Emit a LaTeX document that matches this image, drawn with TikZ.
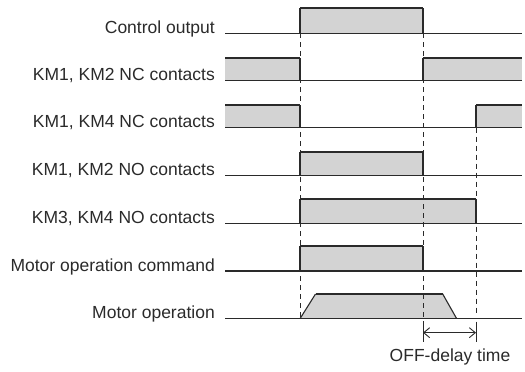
\documentclass[tikz,border=0pt]{standalone}
\usepackage{fontspec}
\setmainfont{Liberation Sans}
\usetikzlibrary{arrows.meta}
\definecolor{fillgray}{HTML}{D3D3D3}
\definecolor{ink}{HTML}{2A2A2A}
\begin{document}
\begin{tikzpicture}[x=1pt,y=-1pt,
  lbl/.style={anchor=base east, inner sep=0pt, font=\fontsize{17.5}{20}\selectfont, text=ink},
  note/.style={anchor=base, inner sep=0pt, font=\fontsize{17.5}{20}\selectfont, text=ink},
  baseln/.style={draw=ink, line width=1.1pt},
  hiln/.style={draw=ink, line width=2.2pt},
  edgeln/.style={draw=ink, line width=1.1pt},
  pulsefill/.style={fill=fillgray},
  guide/.style={draw=ink, line width=1pt, dash pattern=on 5pt off 4pt},
  dimln/.style={draw=ink, line width=1pt},
  dimarrow/.style={draw=ink, line width=0.9pt, {Straight Barb[length=6pt,width=10pt]}-{Straight Barb[length=6pt,width=10pt]}}]
\useasboundingbox (0,0) rectangle (525,372);

% labels
\node[lbl] (l1) at (215,33.3) {Control output};
\node[lbl] (l2) at (215,80.3) {KM1, KM2 NC contacts};
\node[lbl] (l3) at (215,127.7) {KM1, KM4 NC contacts};
\node[lbl] (l4) at (215,175.7) {KM1, KM2 NO contacts};
\node[lbl] (l5) at (215,223.3) {KM3, KM4 NO contacts};
\node[lbl] (l6) at (215,271) {Motor operation command};
\node[lbl] (l7) at (215,318.7) {Motor operation};

% fills
\fill[pulsefill] (300,8) rectangle (423,33.3);
\fill[pulsefill] (225,58.3) rectangle (300,80.3);
\fill[pulsefill] (423,58.3) rectangle (522,80.3);
\fill[pulsefill] (225,105.3) rectangle (300,127.7);
\fill[pulsefill] (476,105.3) rectangle (522,127.7);
\fill[pulsefill] (300,151.7) rectangle (423,175.7);
\fill[pulsefill] (300,199) rectangle (476,223.3);
\fill[pulsefill] (300,246.3) rectangle (423,271);
\fill[pulsefill] (300,318.7) -- (315.5,294) -- (442.7,294) -- (456.7,318.7) -- cycle;

% guides
\draw[guide] (300,33.3) -- (300,318.7);
\draw[guide] (423,33.3) -- (423,321.7);
\draw[guide] (476,127.7) -- (476,316);

% baselines
\draw[baseln] (225,33.3) -- (522,33.3);
\draw[baseln] (225,80.3) -- (522,80.3);
\draw[baseln] (225,127.7) -- (522,127.7);
\draw[baseln] (225,175.7) -- (522,175.7);
\draw[baseln] (225,223.3) -- (522,223.3);
\draw[baseln] (225,271) -- (522,271);
\draw[baseln] (225,318.7) -- (522,318.7);

% edges
\draw[edgeln] (300,33.3) -- (300,8) (423,8) -- (423,33.3);
\draw[edgeln] (300,58.3) -- (300,80.3) (423,80.3) -- (423,58.3);
\draw[edgeln] (300,105.3) -- (300,127.7) (476,127.7) -- (476,105.3);
\draw[edgeln] (300,175.7) -- (300,151.7) (423,151.7) -- (423,175.7);
\draw[edgeln] (300,223.3) -- (300,199) (476,199) -- (476,223.3);
\draw[edgeln] (300,271) -- (300,246.3) (423,246.3) -- (423,271);
\draw[edgeln] (300,318.7) -- (315.5,294) (442.7,294) -- (456.7,318.7);

% high levels
\draw[hiln] (300,8) -- (423,8);
\draw[hiln] (225,58.3) -- (300,58.3) (423,58.3) -- (522,58.3);
\draw[hiln] (225,105.3) -- (300,105.3) (476,105.3) -- (522,105.3);
\draw[hiln] (300,151.7) -- (423,151.7);
\draw[hiln] (300,199) -- (476,199);
\draw[hiln] (300,246.3) -- (423,246.3);
\draw[hiln] (315.5,294) -- (442.7,294);

% OFF-delay dimension
\coordinate (t1a) at (423,321.7);
\coordinate (t1b) at (423,341.7);
\coordinate (t2a) at (476,321.7);
\coordinate (t2b) at (476,341.7);
\coordinate (a1) at (423,332.7);
\coordinate (a2) at (476,332.7);
\draw[dimln] (t1a) -- (t1b);
\draw[dimln] (t2a) -- (t2b);
\draw[dimarrow] (a1) -- (a2);
\node[note] (off) at (450,361.7) {OFF-delay time};
\end{tikzpicture}
\end{document}
